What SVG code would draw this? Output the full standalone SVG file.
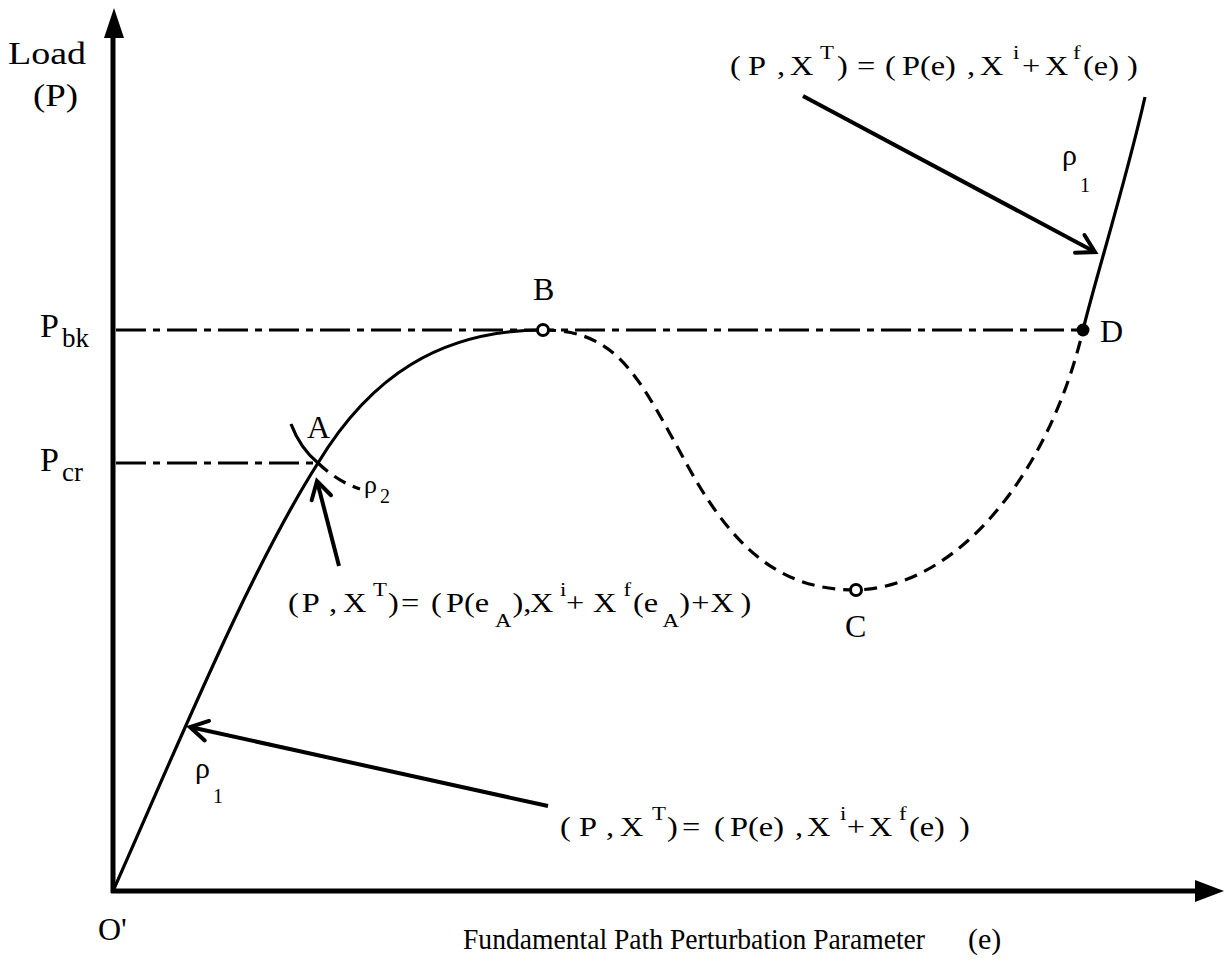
<svg xmlns="http://www.w3.org/2000/svg" width="1225" height="965" viewBox="0 0 1225 965" font-family="'Liberation Serif', 'Times New Roman', Times, 'DejaVu Serif', serif">
<defs>
<style>
text{font-family:'Liberation Serif','Times New Roman',Times,'DejaVu Serif',serif;fill:#000}
.lbl{font-size:32px}
.eq{font-size:27px}
.sup{font-size:19px}
.axis{stroke:#000;stroke-width:5;fill:none}
.solid{stroke:#000;stroke-width:3.2;fill:none}
.dash{stroke:#000;stroke-width:3.2;fill:none;stroke-dasharray:13 8}
.dashdot{stroke:#000;stroke-width:3.2;fill:none;stroke-dasharray:30 7 7 7}
.arrow{stroke:#000;stroke-width:4;fill:none;marker-end:url(#chev)}
</style>
<marker id="chev" markerUnits="userSpaceOnUse" viewBox="-22 -14 26 28" markerWidth="26" markerHeight="28" refX="0" refY="0" orient="auto" overflow="visible">
<path d="M-17.3,-10 L0,0 L-17.3,10" fill="none" stroke="#000" stroke-width="4" stroke-linecap="round"/>
</marker>
</defs>
<rect x="0" y="0" width="1225" height="965" fill="#fff"/>
<g id="axes">
<line class="axis" x1="113" y1="893" x2="113" y2="34"/>
<polygon points="114,8 104,38 124,38" fill="#000"/>
<line class="axis" x1="111" y1="891" x2="1198" y2="891"/>
<polygon points="1224,891 1195,880 1195,902" fill="#000"/>
<text class="lbl" x="8" y="64" textLength="78" lengthAdjust="spacingAndGlyphs">Load</text>
<text class="lbl" x="33" y="106" textLength="45" lengthAdjust="spacingAndGlyphs">(P)</text>
<text class="lbl" x="98" y="940">O'</text>
<text x="463" y="949" font-size="30" textLength="462" lengthAdjust="spacingAndGlyphs">Fundamental Path Perturbation Parameter</text>
<text x="968" y="949" font-size="30">(e)</text>
</g>
<g id="levels">
<line class="dashdot" x1="116" y1="330" x2="1083" y2="330"/>
<line class="dashdot" x1="116" y1="463" x2="318" y2="463"/>
<text x="40" y="337" font-size="34">P<tspan font-size="27" dx="3" dy="10">bk</tspan></text>
<text x="40" y="471" font-size="34">P<tspan font-size="27" dx="3" dy="10">cr</tspan></text>
</g>
<g id="paths">
<path class="solid" d="M113,891 C180,740 250,570 318,463 C370,377 440,330 543,330"/>
<path class="dash" d="M543,330 C620,330 640,380 690,470 C740,560 790,590 856,590 C960,587 1050,470 1083,330"/>
<path class="solid" d="M1083,330 C1095,280 1125,185 1145,97"/>
<path class="solid" d="M291,424 Q300,448 318,463"/>
<path class="dash" d="M318,463 Q338,482 360,489"/>
<text x="195" y="778" font-size="30">ρ</text>
<text x="213" y="803" font-size="20">1</text>
<text x="1062" y="165" font-size="30">ρ</text>
<text x="1080" y="192" font-size="20">1</text>
<text x="364" y="493" font-size="26">ρ</text>
<text x="380" y="503" font-size="20">2</text>
</g>
<g id="node-A">
<text class="lbl" x="307" y="438">A</text>
</g>
<g id="node-B">
<circle cx="543" cy="330" r="5.5" fill="#fff" stroke="#000" stroke-width="3"/>
<text class="lbl" x="533" y="300">B</text>
</g>
<g id="node-C">
<circle cx="856" cy="590" r="5.5" fill="#fff" stroke="#000" stroke-width="3"/>
<text class="lbl" x="845" y="637">C</text>
</g>
<g id="node-D">
<circle cx="1083" cy="330" r="6.5" fill="#000"/>
<text class="lbl" x="1100" y="342">D</text>
</g>
<g id="connectors">
<line class="arrow" x1="803" y1="96" x2="1095" y2="252"/>
<line class="arrow" x1="548" y1="806" x2="190" y2="727"/>
<line class="arrow" x1="339" y1="566" x2="317" y2="481"/>
</g>
<g id="eq-top" transform="translate(730,75) scale(1.2,1)">
<text class="eq"><tspan x="0" y="0">(</tspan><tspan x="15" y="0">P</tspan><tspan x="39.2" y="0">,</tspan><tspan x="50" y="0">X</tspan><tspan class="sup" x="75" y="-16">T</tspan><tspan x="89.2" y="0">)</tspan><tspan x="105.8" y="0">=</tspan><tspan x="129.2" y="0">(</tspan><tspan x="143.3" y="0">P(e)</tspan><tspan x="197.5" y="0">,</tspan><tspan x="208.3" y="0">X</tspan><tspan class="sup" x="235.8" y="-16">i</tspan><tspan x="243.3" y="0">+</tspan><tspan x="262.5" y="0">X</tspan><tspan class="sup" x="285.8" y="-16">f</tspan><tspan x="294.2" y="0">(e)</tspan><tspan x="330.8" y="0">)</tspan></text>
</g>
<g id="eq-bottom" transform="translate(560,836) scale(1.2,1)">
<text class="eq"><tspan x="0" y="0">(</tspan><tspan x="15.8" y="0">P</tspan><tspan x="38.3" y="0">,</tspan><tspan x="50" y="0">X</tspan><tspan class="sup" x="76.7" y="-16">T</tspan><tspan x="89.2" y="0">)</tspan><tspan x="101.7" y="0">=</tspan><tspan x="128.3" y="0">(</tspan><tspan x="141.7" y="0">P(e)</tspan><tspan x="195.8" y="0">,</tspan><tspan x="205.8" y="0">X</tspan><tspan class="sup" x="233.3" y="-16">i</tspan><tspan x="239" y="0">+</tspan><tspan x="257.5" y="0">X</tspan><tspan class="sup" x="282.5" y="-16">f</tspan><tspan x="290.8" y="0">(e)</tspan><tspan x="332.5" y="0">)</tspan></text>
</g>
<g id="eq-A" transform="translate(288,612) scale(1.2,1)">
<text class="eq"><tspan x="0" y="0">(</tspan><tspan x="11.5" y="0">P</tspan><tspan x="34.2" y="0">,</tspan><tspan x="45.8" y="0">X</tspan><tspan class="sup" x="70.8" y="-16">T</tspan><tspan x="83.3" y="0">)</tspan><tspan x="94.2" y="0">=</tspan><tspan x="119.2" y="0">(</tspan><tspan x="131.7" y="0">P(e</tspan><tspan class="sup" x="172.5" y="15">A</tspan><tspan x="187" y="0">)</tspan><tspan x="196" y="0">,</tspan><tspan x="201.7" y="0">X</tspan><tspan class="sup" x="226.7" y="-16">i</tspan><tspan x="231.7" y="0">+</tspan><tspan x="254.2" y="0">X</tspan><tspan class="sup" x="279.5" y="-16">f</tspan><tspan x="287.5" y="0">(e</tspan><tspan class="sup" x="312" y="15">A</tspan><tspan x="326" y="0">)</tspan><tspan x="336" y="0">+</tspan><tspan x="352" y="0">X</tspan><tspan x="377" y="0">)</tspan></text>
</g>
</svg>
